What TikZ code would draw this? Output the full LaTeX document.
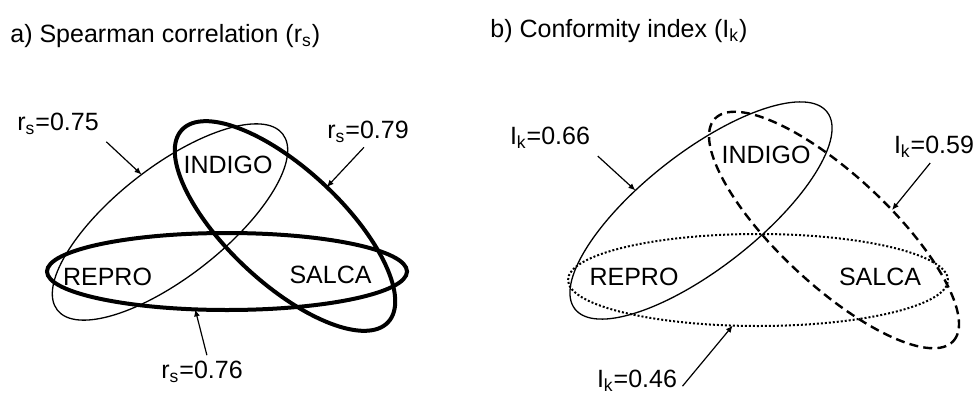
\documentclass[tikz,border=0pt]{standalone}
\usepackage{fontspec}
\setmainfont{Liberation Sans}
\usetikzlibrary{arrows.meta,shapes.geometric}
\tikzset{
  oval/.style   = {draw, ellipse, inner sep=0pt, outer sep=0pt},
  ovthin/.style = {oval, line width=0.65pt},
  ovbold/.style = {oval, line width=2pt},
  ovdash/.style = {oval, line width=1.2pt, dash pattern=on 4.5pt off 2.6pt},
  ovdot/.style  = {oval, line width=1pt, dash pattern=on 1pt off 1pt},
  head/.style   = {anchor=west, inner sep=0pt},
  setlbl/.style = {inner sep=0pt},
  val/.style    = {inner sep=0pt},
  ar/.style     = {-{Latex[length=3.5pt,width=3pt]}, line width=0.6pt}
}
\begin{document}
\begin{tikzpicture}[x=0.5pt, y=-0.5pt, font=\fontsize{12.5}{15}\selectfont]
  \useasboundingbox (0,0) rectangle (973,396);
  % a) Spearman correlation
  \node[head] (titleA) at (10,36) {a) Spearman correlation (r\textsubscript{s})};
  \node[ovthin, rotate=38, minimum width=143pt, minimum height=55pt]  (repindA) at (170,222) {};
  \node[ovbold, rotate=-43, minimum width=141pt, minimum height=57pt] (indsalA) at (285,226) {};
  \node[ovbold, minimum width=180pt, minimum height=38.5pt]           (repsalA) at (227,271.5) {};
  \node[setlbl] (indigoA) at (228,165) {INDIGO};
  \node[setlbl] (reproA)  at (107.5,277) {REPRO};
  \node[setlbl] (salcaA)  at (330.5,275) {SALCA};
  \node[val] (rsRI) at (58,124)  {r\textsubscript{s}=0.75};
  \node[val] (rsIS) at (368,132) {r\textsubscript{s}=0.79};
  \node[val] (rsRS) at (202,372) {r\textsubscript{s}=0.76};
  \draw[ar, shorten <=5pt] (rsRI.south east) -- (repindA.83);
  \draw[ar, shorten <=3pt] (rsIS.south) -- (indsalA.86);
  \draw[ar, shorten <=3pt] (rsRS.60) -- (repsalA.230);
  % b) Conformity index
  \node[head] (titleB) at (490,31) {b) Conformity index (I\textsubscript{k})};
  \node[ovthin, rotate=38, minimum width=160pt, minimum height=58pt]  (repindB) at (701,210.5) {};
  \node[ovdash, rotate=-43, minimum width=163pt, minimum height=55pt] (indsalB) at (834,230) {};
  \node[ovdot, minimum width=190pt, minimum height=46pt]              (repsalB) at (758,280) {};
  \node[setlbl] (indigoB) at (766,155) {INDIGO};
  \node[setlbl] (reproB)  at (634,277) {REPRO};
  \node[setlbl] (salcaB)  at (880,277) {SALCA};
  \node[val] (ikRI) at (550,138) {I\textsubscript{k}=0.66};
  \node[val] (ikIS) at (934,147) {I\textsubscript{k}=0.59};
  \node[val] (ikRS) at (637,381) {I\textsubscript{k}=0.46};
  \draw[ar, shorten <=5pt] (ikRI.south east) -- (repindB.125);
  \draw[ar, shorten <=3pt] (ikIS.south) -- (indsalB.62);
  \draw[ar, shorten <=4pt] (ikRS.south east) -- (repsalB.241);
\end{tikzpicture}
\end{document}
